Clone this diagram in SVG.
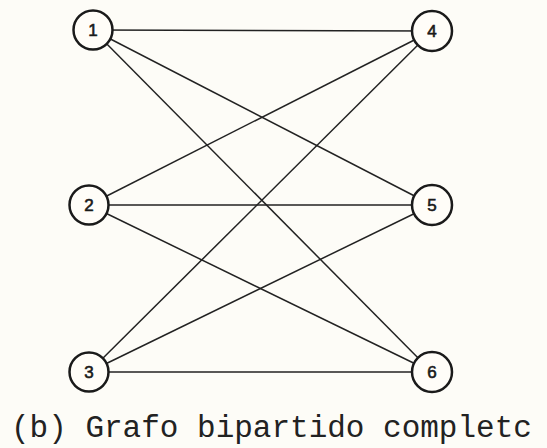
<svg xmlns="http://www.w3.org/2000/svg" width="547" height="448" viewBox="0 0 547 448">
<style>
.n circle{fill:#fffdf8;stroke:#1a1a1a;stroke-width:2.5}
.n text{font-family:"Liberation Sans",Arial,sans-serif;font-size:17px;fill:#1a1a1a;stroke:#1a1a1a;stroke-width:0.6;text-anchor:middle;dominant-baseline:central}
.e line{stroke:#222;stroke-width:1.5}
.cap{font-family:"Liberation Mono","Courier New",monospace;font-size:31px;fill:#222}
</style>
<rect width="547" height="448" fill="#fdfcf7"/>
<g id="edges" class="e">
<line x1="93" y1="30" x2="432" y2="31"/>
<line x1="93" y1="30" x2="432" y2="205"/>
<line x1="93" y1="30" x2="432" y2="372"/>
<line x1="89" y1="205" x2="432" y2="31"/>
<line x1="89" y1="205" x2="432" y2="205"/>
<line x1="89" y1="205" x2="432" y2="372"/>
<line x1="89" y1="372" x2="432" y2="31"/>
<line x1="89" y1="372" x2="432" y2="205"/>
<line x1="89" y1="372" x2="432" y2="372"/>
</g>
<g id="n1" class="n"><circle cx="93" cy="30" r="19.5"/><text x="93" y="30">1</text></g>
<g id="n2" class="n"><circle cx="89" cy="205" r="19.5"/><text x="89" y="205">2</text></g>
<g id="n3" class="n"><circle cx="89" cy="372" r="19.5"/><text x="89" y="372">3</text></g>
<g id="n4" class="n"><circle cx="432" cy="31" r="20"/><text x="432" y="31">4</text></g>
<g id="n5" class="n"><circle cx="432" cy="205" r="20"/><text x="432" y="205">5</text></g>
<g id="n6" class="n"><circle cx="432" cy="372" r="20"/><text x="432" y="372">6</text></g>
<text class="cap" x="11" y="437">(b) Grafo bipartido completc</text>
</svg>
